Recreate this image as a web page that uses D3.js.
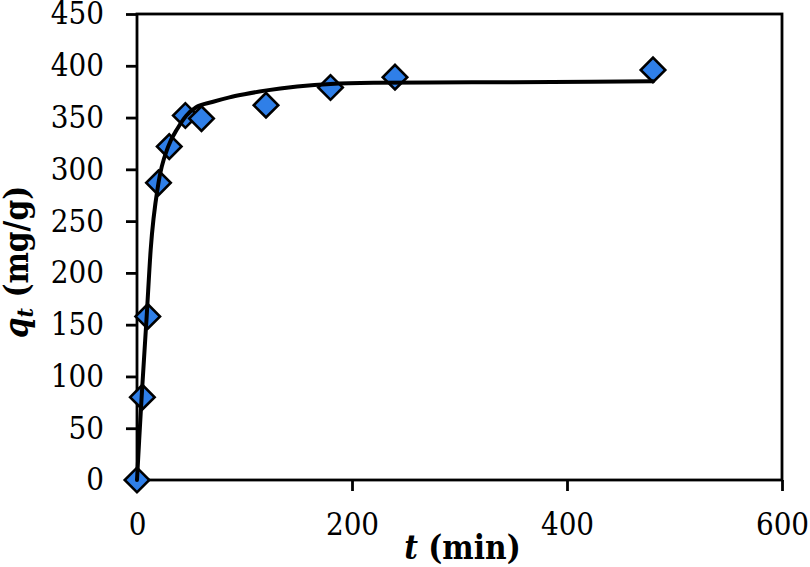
<!DOCTYPE html>
<html>
<head>
<meta charset="utf-8">
<script src="https://cdn.jsdelivr.net/npm/d3@7"></script>
<style>
  html, body { margin: 0; padding: 0; background: #fff; }
  svg { display: block; }
</style>
</head>
<body>
<div id="chart"></div>
<script>
// measured points (t in min, qt in mg/g)
const timeMin = [0, 5, 10, 20, 30, 45, 60, 120, 180, 240, 480];
const qtMeasured = [0, 80, 158, 287, 322, 352, 349, 362, 379, 389, 396];

// fitted curve
const fitTime = [0, 2, 4.3, 9, 12.7, 20, 29, 38, 46, 55, 70, 86, 100, 119, 149, 180, 220, 272, 350, 480];
const fitQt = [0, 38, 80, 158, 222, 287, 322, 340, 352, 360, 365, 369.5, 372.5, 376, 380, 382.5, 383.5, 383.8, 384.2, 385];

const xTicks = [0, 200, 400, 600];
const yTicks = [0, 50, 100, 150, 200, 250, 300, 350, 400, 450];

const width = 810, height = 567;
const margin = { top: 14, right: 28, bottom: 87, left: 137 };
const innerW = width - margin.left - margin.right;
const innerH = height - margin.top - margin.bottom;

const svg = d3.select('#chart').append('svg')
  .attr('width', width)
  .attr('height', height);

const g = svg.append('g')
  .attr('transform', `translate(${margin.left},${margin.top})`);

const x = d3.scaleLinear().domain([0, 600]).range([0, innerW]);
const y = d3.scaleLinear().domain([0, 450]).range([innerH, 0]);

const tickFont = '"DejaVu Serif", "Liberation Serif", serif';

// axes
const xAxis = g.append('g')
  .attr('transform', `translate(0,${innerH})`)
  .call(d3.axisBottom(x).tickValues(xTicks).tickSize(11).tickSizeOuter(0).tickPadding(22));

const yAxis = g.append('g')
  .call(d3.axisLeft(y).tickValues(yTicks).tickSize(11).tickSizeOuter(0).tickPadding(22));

[xAxis, yAxis].forEach(ax => {
  ax.select('.domain').remove();
  ax.selectAll('line').attr('stroke', '#000').attr('stroke-width', 2.8);
  ax.selectAll('text')
    .attr('fill', '#000')
    .style('font-family', tickFont)
    .style('font-stretch', 'condensed')
    .style('font-size', '31px');
});

// plot frame
g.append('rect')
  .attr('width', innerW)
  .attr('height', innerH)
  .attr('fill', 'none')
  .attr('stroke', '#000')
  .attr('stroke-width', 2.8);

// markers
const diamond = d3.symbol().type(d3.symbolSquare).size(300);
g.append('g')
  .selectAll('path')
  .data(timeMin.map((t, i) => [t, qtMeasured[i]]))
  .join('path')
  .attr('d', diamond)
  .attr('transform', d => `translate(${x(d[0])},${y(d[1])}) rotate(45)`)
  .attr('fill', '#2f7fe8')
  .attr('stroke', '#000')
  .attr('stroke-width', 2.6);

// fitted line
const line = d3.line()
  .x(d => x(d[0]))
  .y(d => y(d[1]))
  .curve(d3.curveMonotoneX);

g.append('path')
  .datum(fitTime.map((t, i) => [t, fitQt[i]]))
  .attr('d', line)
  .attr('fill', 'none')
  .attr('stroke', '#000')
  .attr('stroke-width', 4)
  .attr('stroke-linejoin', 'round')
  .attr('stroke-linecap', 'round');

// axis titles
const xTitle = svg.append('text')
  .attr('x', margin.left + x(300) + 3)
  .attr('y', 559)
  .attr('text-anchor', 'middle')
  .style('font-family', tickFont)
  .style('font-stretch', 'condensed')
  .style('font-size', '33px')
  .style('font-weight', 'bold');
xTitle.append('tspan').style('font-style', 'italic').text('t');
xTitle.append('tspan').text(' (min)');

const yTitle = svg.append('text')
  .attr('transform', 'translate(28,262) rotate(-90)')
  .attr('text-anchor', 'middle')
  .style('font-family', tickFont)
  .style('font-stretch', 'condensed')
  .style('font-size', '33px')
  .style('font-weight', 'bold');
yTitle.append('tspan').style('font-style', 'italic').text('q');
yTitle.append('tspan').style('font-style', 'italic').style('font-size', '23px').attr('dy', 5).text('t');
yTitle.append('tspan').attr('dy', -5).text(' (mg/g)');
</script>
</body>
</html>
